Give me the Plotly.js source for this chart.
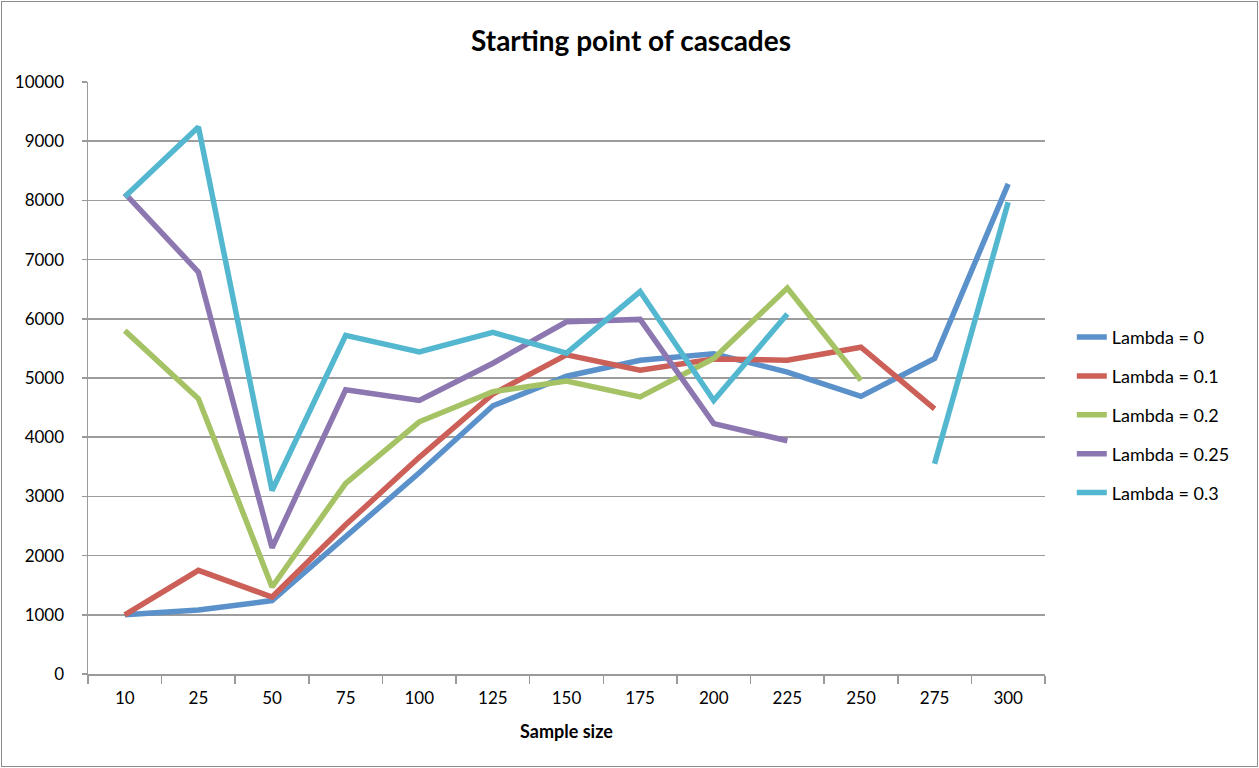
<!DOCTYPE html>
<html>
<head>
<meta charset="utf-8">
<script src="https://cdn.plot.ly/plotly-3.0.1.min.js"></script>
<style>
  html, body { margin: 0; padding: 0; background: #fff; }
  #wrap { position: relative; width: 1259px; height: 768px; }
  #chart { width: 1259px; height: 768px; }
  #frame { position: absolute; left: 1px; top: 1px; width: 1255px; height: 764px; border: 1px solid #8c8c8c; pointer-events: none; }
</style>
</head>
<body>
<div id="wrap"><div id="chart"></div><div id="frame"></div></div>
<script>
const categories = ["10","25","50","75","100","125","150","175","200","225","250","275","300"];
const lambda0   = [1000, 1080, 1240, 2320, 3400, 4530, 5030, 5300, 5410, 5100, 4690, 5330, 8280];
const lambda01  = [1000, 1750, 1300, 2520, 3660, 4730, 5390, 5130, 5320, 5300, 5520, 4480, null];
const lambda02  = [5800, 4650, 1470, 3220, 4260, 4770, 4950, 4680, 5330, 6520, 4960, null, null];
const lambda025 = [8120, 6790, 2130, 4800, 4620, 5250, 5950, 5990, 4230, 3940, null, null, null];
const lambda03  = [8060, 9240, 3100, 5720, 5440, 5770, 5420, 6460, 4620, 6080, null, 3550, 7970];
const seriesNames = ["Lambda = 0", "Lambda = 0.1", "Lambda = 0.2", "Lambda = 0.25", "Lambda = 0.3"];
const seriesValues = [lambda0, lambda01, lambda02, lambda025, lambda03];
const colors = ["#5B91CB", "#CC5F57", "#A5C364", "#8D77B1", "#53B7D0"];

const font = "Lato, 'Open Sans', sans-serif";
const traces = seriesValues.map((vals, i) => ({
  x: categories,
  y: vals,
  type: "scatter",
  mode: "lines",
  name: seriesNames[i],
  legendgroup: "g" + i,
  connectgaps: false,
  line: { color: colors[i], width: 5.5 },
  hoverinfo: "x+y+name"
}));

const layout = {
  width: 1259,
  height: 768,
  margin: { l: 88, r: 214, t: 82, b: 94 },
  paper_bgcolor: "#ffffff",
  plot_bgcolor: "#ffffff",
  font: { family: font, color: "#000000", size: 17 },
  title: {
    text: "<b>Starting point of cascades</b>",
    font: { family: font, size: 28, color: "#000" },
    x: 631 / 1259, xanchor: "center", xref: "container",
    y: 1 - 41 / 768, yanchor: "middle", yref: "container"
  },
  xaxis: {
    type: "category",
    categoryorder: "array",
    categoryarray: categories,
    range: [-0.5, 12.5],
    showgrid: false,
    showline: true,
    linecolor: "#9a9a9a",
    linewidth: 1.5,
    ticks: "outside",
    tickson: "boundaries",
    ticklen: 8,
    tickwidth: 1.5,
    tickcolor: "#9a9a9a",
    ticklabelstandoff: 8,
    tickfont: { family: font, size: 17, color: "#000" },
    title: { text: "<b>Sample size</b>", font: { family: font, size: 18, color: "#000" }, standoff: 18 },
    zeroline: false,
    fixedrange: true
  },
  yaxis: {
    range: [0, 10000],
    dtick: 1000,
    tick0: 0,
    tickformat: "d",
    showgrid: true,
    gridcolor: "#9c9c9c",
    gridwidth: 1.5,
    showline: true,
    linecolor: "#9a9a9a",
    linewidth: 1.5,
    ticks: "outside",
    ticklen: 5,
    tickwidth: 1.5,
    tickcolor: "#9a9a9a",
    ticklabelstandoff: 14,
    tickfont: { family: font, size: 17, color: "#000" },
    zeroline: false,
    fixedrange: true
  },
  showlegend: true,
  legend: {
    x: 1.028, xanchor: "left",
    y: 0.600, yanchor: "top",
    traceorder: "grouped",
    tracegroupgap: 12.5,
    font: { family: font, size: 18, color: "#000" },
    bgcolor: "rgba(0,0,0,0)",
    itemwidth: 30
  }
};

Plotly.newPlot("chart", traces, layout, { displayModeBar: false, staticPlot: true });
</script>
</body>
</html>
